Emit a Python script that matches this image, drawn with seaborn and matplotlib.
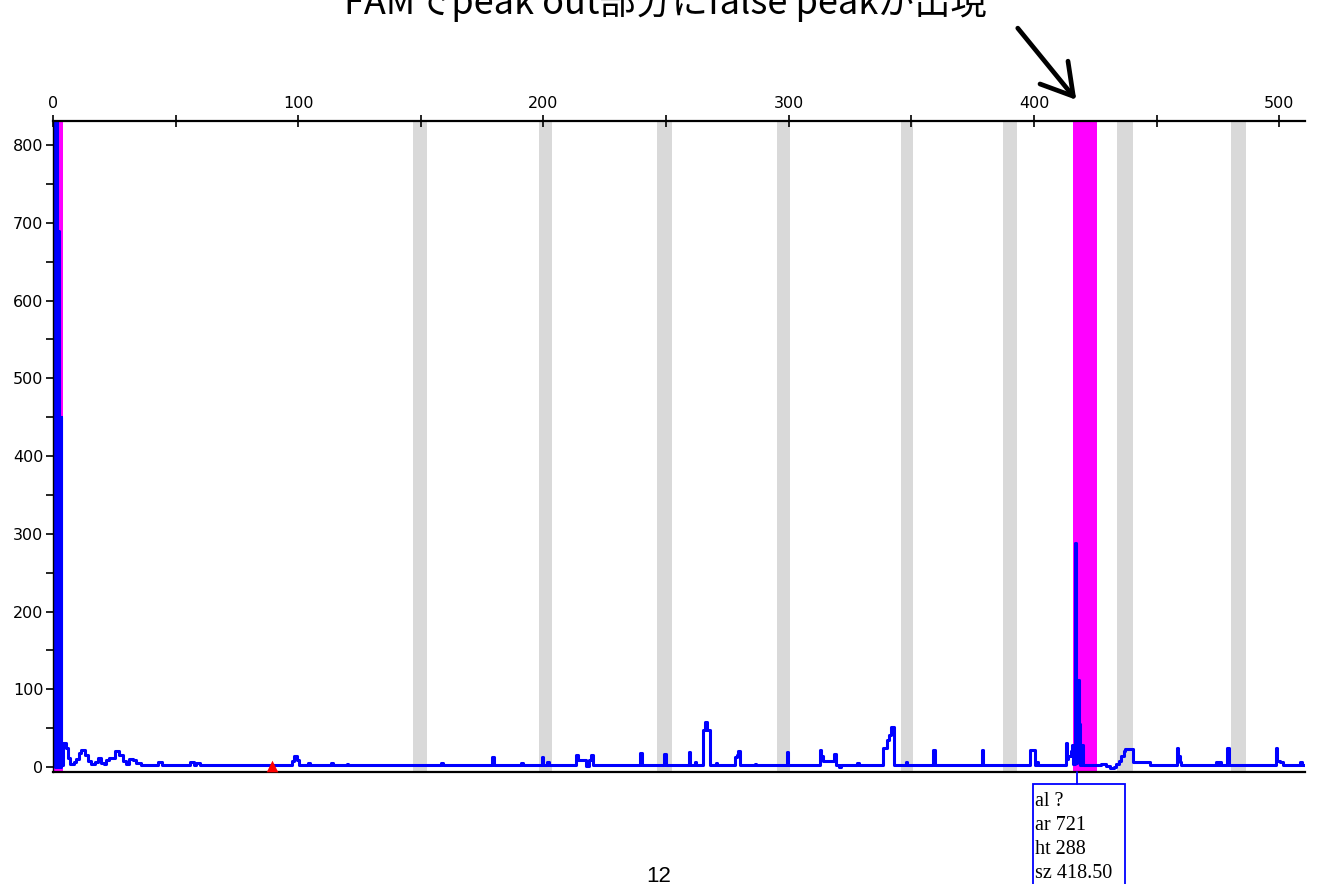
import matplotlib
matplotlib.use("Agg")
import matplotlib.pyplot as plt
import seaborn as sns
import pandas as pd
from matplotlib.patches import Rectangle, FancyArrowPatch
from matplotlib.lines import Line2D
from matplotlib.ticker import MultipleLocator

# ---------------- data ----------------
title_text = "FAMでpeak out部分にfalse peakが出現"

trace_x = [0.0, 0.7, 1.0, 1.3, 1.6, 1.9, 2.2, 2.5, 2.8, 3.1, 3.4, 4.2, 5.2, 6.2, 7.0, 8.4, 9.4, 10.6, 11.6, 13.0, 14.4, 15.6,
           17.2, 18.4, 19.4, 20.6, 21.6, 23.0, 24.4, 25.4, 27.0, 28.4, 29.6, 31.0, 32.6,
           34.0, 36.0, 43.0, 44.4, 56.0, 57.6, 58.4, 60.0, 97.6, 98.4, 99.4, 100.4,
           104.0, 104.8, 113.5, 114.2, 119.8, 120.4, 158.4, 159.0, 179.2, 179.8,
           191.0, 191.6, 199.2, 199.8, 201.6, 202.2, 213.3, 214.0, 217.5, 218.6, 219.4,
           220.0, 239.4, 240.0, 249.2, 249.8, 259.3, 259.9, 261.7, 262.2, 265.2, 266.0,
           266.8, 267.8, 270.3, 270.8, 278.0, 278.7, 279.4, 280.1, 286.2, 286.7,
           299.1, 299.7, 312.7, 313.3, 314.0, 318.4, 319.2, 320.4, 321.2, 327.9, 328.5,
           338.5, 340.0, 340.8, 341.7, 342.8, 347.7, 348.3, 359.0, 359.6, 378.8, 379.4,
           398.4, 400.4, 401.0, 401.6, 413.0, 413.4, 414.0, 415.0, 415.4, 415.9, 416.8,
           417.3, 417.6, 418.3, 418.9, 419.3, 419.8, 427.5, 429.5, 431.0, 432.5, 433.5,
           434.5, 435.5, 436.5, 437.3, 439.8, 440.4, 443.0, 447.3, 458.2, 458.8, 459.4,
           460.0, 474.3, 475.0, 475.6, 476.2, 478.8, 479.4, 498.5, 499.1, 500.5, 501.5,
           508.5, 509.2, 511.0]
trace_y = [3, 840, 0, 840, 690, 0, 690, 450, 0, 450, 3, 31, 25, 12, 4, 6, 10, 18, 22, 15, 8, 4,
           6, 12, 5, 4, 9, 12, 11, 20, 15, 8, 4, 10, 9,
           5, 3, 6, 3, 6, 3, 5, 3, 8, 14, 9, 3,
           5, 3, 5, 3, 4, 3, 5, 3, 13, 3,
           5, 3, 13, 3, 6, 3, 15, 9, 1, 9, 15,
           3, 18, 3, 17, 3, 19, 3, 7, 3, 47, 58,
           47, 3, 5, 3, 13, 16, 21, 3, 4, 3,
           19, 3, 22, 14, 8, 17, 3, 0, 3, 5, 3,
           24, 35, 41, 52, 3, 6, 3, 22, 3, 22, 3,
           22, 3, 6, 3, 31, 10, 14, 20, 28, 4, 288,
           5, 112, 55, 3, 28, 3, 4, 1, -1, 0, 4,
           8, 14, 20, 23, 23, 6, 7, 3, 24, 14, 7,
           3, 7, 3, 7, 3, 24, 3, 24, 8, 6, 3,
           6, 3, 3]

gray_start = [146.9, 198.0, 246.4, 295.4, 345.6, 387.4, 434.0, 480.5]
gray_end = [152.4, 203.3, 252.5, 300.7, 350.7, 392.9, 440.2, 486.6]
magenta_start = [0.0, 415.8]
magenta_end = [4.1, 425.6]

marker_x = [89.3]
marker_y = [1.5]

box_lines = ["al ?", "ar 721", "ht 288", "sz 418.50"]
page_number = "12"

x_major = 100
y_major = 100

# ---------------- figure ----------------
sns.set_theme(style="white")
plt.rcParams["font.family"] = ["DejaVu Sans"]

W, H = 1317, 884
fig = plt.figure(figsize=(W / 100, H / 100), dpi=100)


def fx(x):
    return x / W


def fy(y):
    return 1 - y / H


left, right, top, bottom = 53, 1305, 121, 772
ax = fig.add_axes([fx(left), fy(bottom), (right - left) / W, (bottom - top) / H])

for s, e in zip(gray_start, gray_end):
    ax.axvspan(s, e, color="#d9d9d9", lw=0, zorder=0)
for s, e in zip(magenta_start, magenta_end):
    ax.axvspan(s, e, color="#ff00ff", lw=0, zorder=0.5)

df = pd.DataFrame({"x": trace_x, "y": trace_y})
sns.lineplot(data=df, x="x", y="y", estimator=None, sort=False, ax=ax,
             color="#0000ff", lw=2.2, drawstyle="steps-post", zorder=2)

ax.scatter(marker_x, marker_y, marker="^", s=70, color="red", zorder=3, clip_on=False, lw=0)

ax.set_xlim(0, 510.5)
ax.set_ylim(-6.4, 831)
ax.set_xlabel("")
ax.set_ylabel("")

ax.xaxis.set_major_locator(MultipleLocator(x_major))
ax.xaxis.set_minor_locator(MultipleLocator(x_major / 2))
ax.yaxis.set_major_locator(MultipleLocator(y_major))
ax.yaxis.set_minor_locator(MultipleLocator(y_major / 2))

ax.xaxis.tick_top()
ax.tick_params(axis="x", which="both", direction="inout", length=9, width=1.2,
               color="black", top=True, bottom=False, labeltop=True, labelbottom=False,
               labelsize=11.5, pad=3, labelcolor="black")
ax.tick_params(axis="y", which="both", direction="out", length=5, width=1.2,
               color="black", left=True, labelsize=11.5, pad=2, labelcolor="black")

for side in ["top", "bottom", "left"]:
    ax.spines[side].set_visible(True)
    ax.spines[side].set_color("black")
ax.spines["top"].set_linewidth(1.6)
ax.spines["bottom"].set_linewidth(1.6)
ax.spines["left"].set_linewidth(1.0)
ax.spines["right"].set_visible(False)
ax.grid(False)

# title (cut at top edge, as in the reference)
fig.text(fx(665), fy(14), title_text, ha="center", va="baseline", fontsize=26,
         family=["Noto Sans CJK JP", "DejaVu Sans"], color="black")

# arrow
fig.add_artist(FancyArrowPatch(
    (fx(1016), fy(26)), (fx(1078), fy(102)), transform=fig.transFigure,
    arrowstyle="->,head_length=1.1,head_width=0.65", lw=3.4, color="black",
    mutation_scale=20))

# annotation box
fig.add_artist(Line2D([fx(1077), fx(1077)], [fy(772), fy(784)], transform=fig.transFigure,
                      color="#0000ff", lw=1.3))
fig.add_artist(Rectangle((fx(1033), fy(890)), (1125 - 1033) / W, (890 - 784) / H,
                         transform=fig.transFigure, fill=False, edgecolor="#0000ff", lw=1.3))
for i, line in enumerate(box_lines):
    fig.text(fx(1035), fy(802 + i * 24), line, ha="left", va="center", fontsize=14.5,
             family=["Liberation Serif", "DejaVu Serif"], color="black")

fig.text(fx(659), fy(876), page_number, ha="center", va="center", fontsize=16,
         family=["Liberation Sans", "DejaVu Sans"], color="black")

fig.savefig("out.png", dpi=100)
